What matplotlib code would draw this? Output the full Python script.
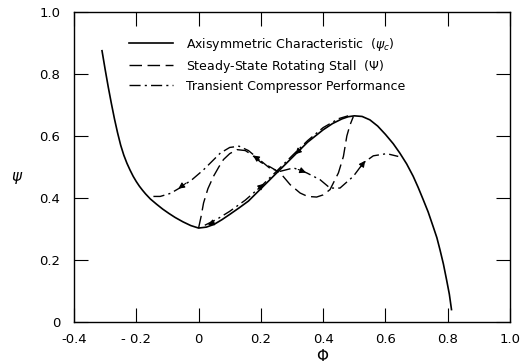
import matplotlib
matplotlib.use("Agg")
import matplotlib.pyplot as plt

# axisymmetric characteristic (psi_c)
phi_c = [-0.31, -0.30, -0.29, -0.28, -0.27, -0.26, -0.25, -0.24, -0.23, -0.22, -0.21, -0.20,
         -0.19, -0.18, -0.17, -0.155, -0.135, -0.115, -0.095, -0.075, -0.05, -0.025, 0.0,
         0.025, 0.05, 0.075, 0.10, 0.13, 0.16, 0.20, 0.25, 0.30, 0.35, 0.40, 0.43, 0.46,
         0.48, 0.50, 0.525, 0.55, 0.575, 0.60, 0.625, 0.646, 0.668, 0.689, 0.705, 0.721,
         0.737, 0.753, 0.765, 0.775, 0.786, 0.796, 0.805, 0.812]
psi_c = [0.875, 0.815, 0.758, 0.705, 0.655, 0.61, 0.57, 0.538, 0.512, 0.49, 0.47, 0.453,
         0.438, 0.425, 0.413, 0.397, 0.38, 0.364, 0.35, 0.337, 0.323, 0.311, 0.303,
         0.306, 0.315, 0.33, 0.347, 0.368, 0.39, 0.43, 0.48, 0.53, 0.58, 0.62, 0.64, 0.655,
         0.662, 0.665, 0.663, 0.652, 0.632, 0.605, 0.575, 0.545, 0.51, 0.47, 0.434, 0.395,
         0.355, 0.308, 0.272, 0.233, 0.187, 0.137, 0.09, 0.04]

# steady-state rotating stall (Psi)
phi_s = [0.0, 0.008, 0.016, 0.03, 0.048, 0.065, 0.08, 0.10, 0.123, 0.15, 0.17, 0.20, 0.23,
         0.262, 0.294, 0.326, 0.35, 0.379, 0.40, 0.422, 0.449, 0.465, 0.476, 0.486, 0.497]
psi_s = [0.303, 0.34, 0.384, 0.43, 0.47, 0.50, 0.524, 0.543, 0.556, 0.553, 0.54, 0.515, 0.50,
         0.481, 0.443, 0.416, 0.405, 0.403, 0.41, 0.427, 0.481, 0.534, 0.60, 0.635, 0.663]

# transient compressor performance: loop and branch along characteristic
phi_t1 = [-0.145, -0.123, -0.09, -0.056, -0.02, 0.016, 0.045, 0.07, 0.10, 0.13, 0.16, 0.19,
          0.23, 0.262, 0.305, 0.347, 0.39, 0.422, 0.454, 0.497, 0.529, 0.561, 0.604, 0.641]
psi_t1 = [0.405, 0.405, 0.415, 0.435, 0.46, 0.491, 0.52, 0.545, 0.563, 0.567, 0.553, 0.528,
          0.495, 0.486, 0.497, 0.481, 0.459, 0.432, 0.432, 0.47, 0.513, 0.536, 0.543, 0.534]
phi_t2 = [0.02, 0.06, 0.10, 0.15, 0.20, 0.25, 0.30, 0.35, 0.40, 0.45, 0.48]
psi_t2 = [0.312, 0.332, 0.357, 0.393, 0.437, 0.486, 0.536, 0.585, 0.627, 0.656, 0.665]

# arrow (tail, head) positions on the transient path
arrows = [((-0.04, 0.448), (-0.065, 0.43)),
          ((0.195, 0.523), (0.175, 0.537)),
          ((0.32, 0.492), (0.345, 0.482)),
          ((0.52, 0.50), (0.535, 0.52)),
          ((0.33, 0.56), (0.31, 0.541)),
          ((0.19, 0.428), (0.21, 0.446)),
          ((0.05, 0.322), (0.03, 0.313))]

xticks = [-0.4, -0.2, 0, 0.2, 0.4, 0.6, 0.8, 1.0]
xlabels = ["-0.4", "- 0.2", "0", "0.2", "0.4", "0.6", "0.8", "1.0"]
yticks = [0, 0.2, 0.4, 0.6, 0.8, 1.0]
ylabels = ["0", "0.2", "0.4", "0.6", "0.8", "1.0"]

fig = plt.figure(figsize=(5.21, 3.63), dpi=100)
ax = fig.add_axes([0.142, 0.113, 0.837, 0.854])

ax.plot(phi_c, psi_c, color="k", lw=1.2,
        label=r"Axisymmetric Characteristic  ($\psi_c$)")
ax.plot(phi_s, psi_s, color="k", lw=1.0, dashes=(9, 4),
        label=r"Steady-State Rotating Stall  ($\Psi$)")
ax.plot(phi_t1, psi_t1, color="k", lw=1.0, dashes=(8, 3, 1.5, 3),
        label="Transient Compressor Performance")
ax.plot(phi_t2, psi_t2, color="k", lw=1.0, dashes=(8, 3, 1.5, 3))

for tail, head in arrows:
    ax.annotate("", xy=head, xytext=tail,
                arrowprops=dict(arrowstyle="-|>", color="k", lw=0.8,
                                mutation_scale=9, shrinkA=0, shrinkB=0))

ax.set_xlim(-0.4, 1.0)
ax.set_ylim(0, 1.0)
ax.set_xticks(xticks)
ax.set_xticklabels(xlabels)
ax.set_yticks(yticks)
ax.set_yticklabels(ylabels)
ax.tick_params(direction="in", length=10, width=0.8, top=True, right=True,
               labelsize=9.5)
ax.tick_params(axis="y", pad=10)
ax.tick_params(axis="x", pad=8)
for s in ax.spines.values():
    s.set_linewidth(1.0)

ax.set_xlabel(r"$\Phi$", fontsize=11)
ax.xaxis.set_label_coords(0.571, -0.085)
ax.set_ylabel(r"$\psi$", fontsize=11, rotation=0)
ax.yaxis.set_label_coords(-0.13, 0.44)

ax.legend(loc="upper left", bbox_to_anchor=(0.1, 0.96), frameon=False,
          fontsize=9, handlelength=3.5, handletextpad=1.1, labelspacing=0.4)

fig.savefig("out.png", dpi=100)
